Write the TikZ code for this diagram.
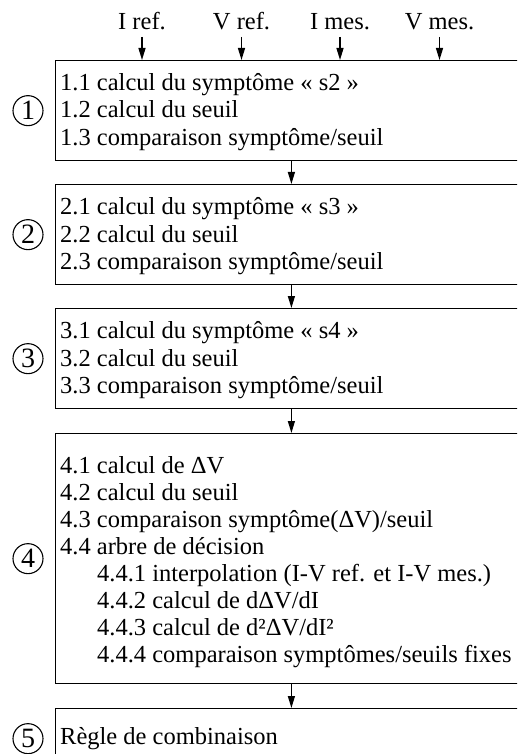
\documentclass[tikz,border=0pt]{standalone}
\usepackage{fontspec}
\setmainfont{Liberation Serif}
\usetikzlibrary{arrows.meta,calc}
\tikzset{
  box/.style={draw, line width=1.3pt, rectangle, inner sep=0pt, minimum width=472.5pt, anchor=north west},
  txt/.style={anchor=base west, inner sep=0pt, font=\fontsize{24.5}{28}\selectfont},
  lab/.style={anchor=base, inner sep=0pt, font=\fontsize{24.5}{28}\selectfont},
  circ/.style={draw, circle, line width=1.1pt, minimum size=30pt, inner sep=0pt, font=\fontsize{28}{30}\selectfont},
  arr/.style={line width=1.3pt, -{Triangle[length=12pt,width=7pt]}},
}
\begin{document}
\begin{tikzpicture}[x=1pt,y=-1pt]
\useasboundingbox (0,0) rectangle (517,754);
\clip (0,0) rectangle (517,754);
\coordinate (cx) at (28,0);
% boxes
\node[box, minimum height=100pt] (b1) at (54.5,60) {};
\node[box, minimum height=100pt] (b2) at (54.5,184) {};
\node[box, minimum height=100pt] (b3) at (54.5,308) {};
\node[box, minimum height=250pt] (b4) at (54.5,433) {};
\node[box, minimum height=60pt] (b5) at (54.5,708) {};
% circles
\node[circ] (c1) at (b1.west -| cx) {1};
\node[circ] (c2) at (b2.west -| cx) {2};
\node[circ] (c3) at (b3.west -| cx) {3};
\node[circ] (c4) at (b4.west -| cx) {4};
\node[circ] (c5) at (b5.west -| cx) {5};
% box 1
\node[txt] (t11) at ($(b1.north west)+(5.5,30.5)$) {1.1 calcul du symptôme « s2 »};
\node[txt] (t12) at ($(t11.base west)+(0,27.5)$) {1.2 calcul du seuil};
\node[txt] (t13) at ($(t12.base west)+(0,27.5)$) {1.3 comparaison symptôme/seuil};
% box 2
\node[txt] (t21) at ($(b2.north west)+(5.5,30.5)$) {2.1 calcul du symptôme « s3 »};
\node[txt] (t22) at ($(t21.base west)+(0,27.5)$) {2.2 calcul du seuil};
\node[txt] (t23) at ($(t22.base west)+(0,27.5)$) {2.3 comparaison symptôme/seuil};
% box 3
\node[txt] (t31) at ($(b3.north west)+(5.5,30.5)$) {3.1 calcul du symptôme « s4 »};
\node[txt] (t32) at ($(t31.base west)+(0,27.5)$) {3.2 calcul du seuil};
\node[txt] (t33) at ($(t32.base west)+(0,27.5)$) {3.3 comparaison symptôme/seuil};
% box 4
\node[txt] (t41) at ($(b4.north west)+(5.5,40)$) {4.1 calcul de ΔV};
\node[txt] (t42) at ($(t41.base west)+(0,27.1)$) {4.2 calcul du seuil};
\node[txt] (t43) at ($(t42.base west)+(0,27.1)$) {4.3 comparaison symptôme(ΔV)/seuil};
\node[txt] (t44) at ($(t43.base west)+(0,27.1)$) {4.4 arbre de décision};
\node[txt] (t441) at ($(t44.base west)+(37,27.1)$) {4.4.1 interpolation (I-V ref. et I-V mes.)};
\node[txt] (t442) at ($(t441.base west)+(0,27.1)$) {4.4.2 calcul de dΔV/dI};
\node[txt] (t443) at ($(t442.base west)+(0,27.1)$) {4.4.3 calcul de d²ΔV/dI²};
\node[txt] (t444) at ($(t443.base west)+(0,27.1)$) {4.4.4 comparaison symptômes/seuils fixes};
% box 5
\node[txt] (t51) at ($(b5.north west)+(5.5,36)$) {Règle de combinaison};
% inputs
\node[lab] (i1) at (142,30) {I ref.};
\node[lab] (i2) at (241.5,30) {V ref.};
\node[lab] (i3) at (340,30) {I mes.};
\node[lab] (i4) at (439.5,30) {V mes.};
\foreach \n in {i1,i2,i3,i4}
  \draw[arr, shorten <=7pt] (\n.base) -- (\n.base |- b1.north);
% connectors
\draw[arr] (b1.south) -- (b2.north);
\draw[arr] (b2.south) -- (b3.north);
\draw[arr] (b3.south) -- (b4.north);
\draw[arr] (b4.south) -- (b5.north);
\end{tikzpicture}
\end{document}
